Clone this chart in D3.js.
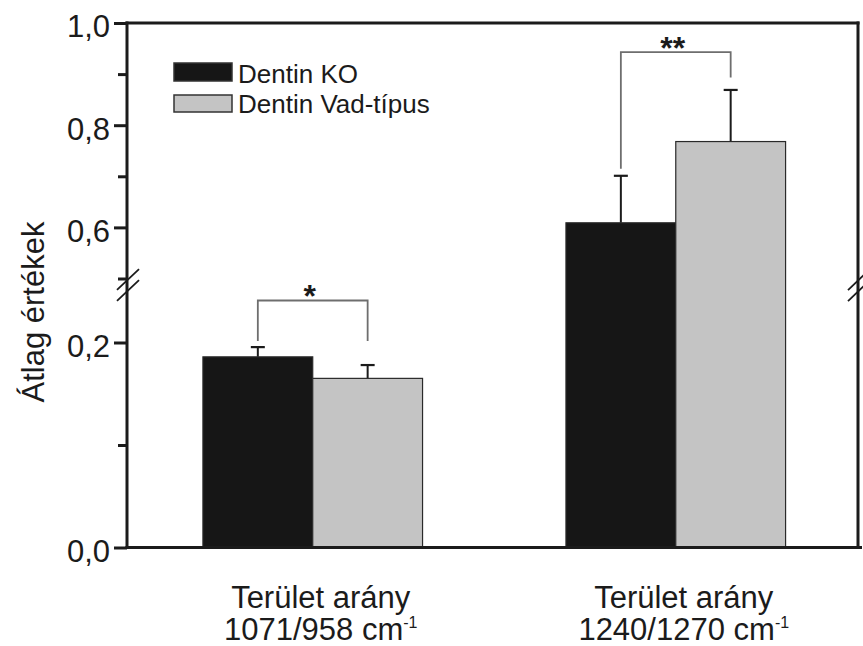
<!DOCTYPE html>
<html>
<head>
<meta charset="utf-8">
<script src="https://cdn.jsdelivr.net/npm/d3@7"></script>
<style>
  body { margin: 0; background: #fff; }
  svg { display: block; font-family: "Liberation Sans", Arial, Helvetica, sans-serif; }
</style>
</head>
<body>
<svg id="chart" width="863" height="646"></svg>
<script>
// ---- data ----
const groups = ["1071/958 cm", "1240/1270 cm"];
const groupTitle = "Terület arány";
const series = ["Dentin KO", "Dentin Vad-típus"];
const meanKO = [0.186, 0.609];
const meanWT = [0.165, 0.768];
const errKO = [0.0095, 0.092];
const errWT = [0.013, 0.101];
const sigMarks = ["*", "**"];
const bracketTop = [0.241, 0.943];
const bracketLegKO = [0.2015, 0.715];
const bracketLegWT = [0.2015, 0.8935];
const majorTicks = [0, 0.2, 0.6, 0.8, 1.0];
const majorTickLabels = ["0,0", "0,2", "0,6", "0,8", "1,0"];
const minorTicks = [0.1, 0.5, 0.7, 0.9];
const yTitle = "Átlag értékek";

// ---- layout ----
const plotLeft = 127, plotRight = 858, plotTop = 23, plotBottom = 547.5;
const colors = { "Dentin KO": "#161616", "Dentin Vad-típus": "#c4c4c4" };
const ink = "#1b1b1b";

const svg = d3.select("#chart");

// broken y axis: lower segment 0–0.26, upper segment 0.5–1.0
const y = d3.scaleLinear()
  .domain([0, 0.26, 0.5, 1.0])
  .range([plotBottom, 281, 278.5, plotTop]);

const x0 = d3.scaleBand().domain(groups).range([plotLeft + 1.5, plotRight + 2])
  .paddingInner(0.395).paddingOuter(0.205);
const x1 = d3.scaleBand().domain(series).range([0, x0.bandwidth()]);

const rows = groups.map((g, i) => ({
  group: g,
  bars: [
    { s: series[0], v: meanKO[i], e: errKO[i], leg: bracketLegKO[i] },
    { s: series[1], v: meanWT[i], e: errWT[i], leg: bracketLegWT[i] }
  ],
  top: bracketTop[i],
  mark: sigMarks[i]
}));

// ---- bars ----
const grp = svg.append("g").selectAll("g.grp").data(rows).join("g")
  .attr("class", "grp")
  .attr("transform", d => `translate(${x0(d.group)},0)`);

// error bars (upper whisker only)
grp.selectAll("g.err").data(d => d.bars).join("g").attr("class", "err")
  .each(function (b) {
    const cx = x1(b.s) + x1.bandwidth() / 2;
    const sel = d3.select(this);
    sel.append("line").attr("x1", cx).attr("x2", cx)
      .attr("y1", y(b.v)).attr("y2", y(b.v + b.e))
      .attr("stroke", ink).attr("stroke-width", 2);
    sel.append("line").attr("x1", cx - 7).attr("x2", cx + 7)
      .attr("y1", y(b.v + b.e)).attr("y2", y(b.v + b.e))
      .attr("stroke", ink).attr("stroke-width", 2.2);
  });

grp.selectAll("rect").data(d => d.bars).join("rect")
  .attr("x", b => x1(b.s))
  .attr("width", x1.bandwidth())
  .attr("y", b => y(b.v))
  .attr("height", b => y(0) - y(b.v))
  .attr("fill", b => colors[b.s])
  .attr("stroke", "#2a2a2a")
  .attr("stroke-width", 1.2);

// significance brackets
grp.each(function (d) {
  const sel = d3.select(this);
  const xa = x1(series[0]) + x1.bandwidth() / 2;
  const xb = x1(series[1]) + x1.bandwidth() / 2;
  const yt = y(d.top);
  sel.append("path")
    .attr("d", `M${xa},${y(d.bars[0].leg)}V${yt}H${xb}V${y(d.bars[1].leg)}`)
    .attr("fill", "none").attr("stroke", "#6e6e6e").attr("stroke-width", 1.8);
  sel.append("text")
    .attr("x", (xa + xb) / 2 - 3).attr("y", yt + 7)
    .attr("text-anchor", "middle")
    .attr("font-size", 32).attr("font-weight", "bold").attr("fill", ink)
    .text(d.mark);
});

// ---- frame and axes ----
const frame = svg.append("g").attr("stroke", ink).attr("stroke-width", 3).attr("fill", "none");
frame.append("line").attr("x1", plotLeft).attr("x2", plotLeft).attr("y1", plotTop - 1.5).attr("y2", plotBottom + 1.5);
frame.append("line").attr("x1", plotLeft - 1.5).attr("x2", plotRight + 1.5).attr("y1", plotTop).attr("y2", plotTop);
frame.append("line").attr("x1", plotRight).attr("x2", plotRight).attr("y1", plotTop - 1.5).attr("y2", plotBottom + 1.5);
frame.append("line").attr("x1", plotLeft - 1.5).attr("x2", plotRight + 4).attr("y1", plotBottom).attr("y2", plotBottom);

const yAxis = d3.axisLeft(y).tickValues(majorTicks).tickSize(13).tickPadding(4)
  .tickFormat((d, i) => majorTickLabels[i]);
const ya = svg.append("g").attr("transform", `translate(${plotLeft},0)`).call(yAxis);
ya.select(".domain").remove();
ya.selectAll(".tick line").attr("stroke", ink).attr("stroke-width", 3);
ya.selectAll(".tick text").attr("font-size", 31).attr("fill", ink).attr("dy", "0.45em");
ya.attr("font-family", null).attr("font-size", null);

const yMinor = d3.axisLeft(y).tickValues(minorTicks).tickSize(9).tickFormat("");
const ym = svg.append("g").attr("transform", `translate(${plotLeft},0)`).call(yMinor);
ym.select(".domain").remove();
ym.selectAll(".tick line").attr("stroke", ink).attr("stroke-width", 3);

// axis break marks
function breakMarks(cx, cy, half) {
  [0, 11].forEach(off => {
    svg.append("line")
      .attr("x1", cx - half).attr("y1", cy + off + half * 0.95)
      .attr("x2", cx + half).attr("y2", cy + off - half * 0.95)
      .attr("stroke", ink).attr("stroke-width", 1.8);
  });
}
breakMarks(plotLeft + 1, y(0.5) + 1, 11);
breakMarks(plotRight - 2, y(0.5) + 4, 8);

// y title
svg.append("text")
  .attr("transform", "translate(44,312) rotate(-90)")
  .attr("text-anchor", "middle")
  .attr("font-size", 31).attr("fill", ink)
  .text(yTitle);

// x category labels
const xl = svg.append("g");
groups.forEach(gname => {
  const cx = x0(gname) + x0.bandwidth() / 2 + 8;
  xl.append("text").attr("x", cx).attr("y", 608)
    .attr("text-anchor", "middle").attr("font-size", 31).attr("fill", ink)
    .text(groupTitle);
  const t = xl.append("text").attr("x", cx).attr("y", 640)
    .attr("text-anchor", "middle").attr("font-size", 31).attr("fill", ink);
  t.append("tspan").text(gname);
  t.append("tspan").attr("font-size", 16).attr("dy", -12).text("-1");
});

// legend
const lg = svg.append("g").attr("transform", "translate(174,63)");
series.forEach((s, i) => {
  lg.append("rect").attr("x", 0).attr("y", i * 32).attr("width", 58).attr("height", 18 - i)
    .attr("fill", colors[s]).attr("stroke", "#333").attr("stroke-width", 1.5);
  lg.append("text").attr("x", 64).attr("y", 20 + i * 30)
    .attr("font-size", 26).attr("fill", ink).text(s);
});
</script>
</body>
</html>
